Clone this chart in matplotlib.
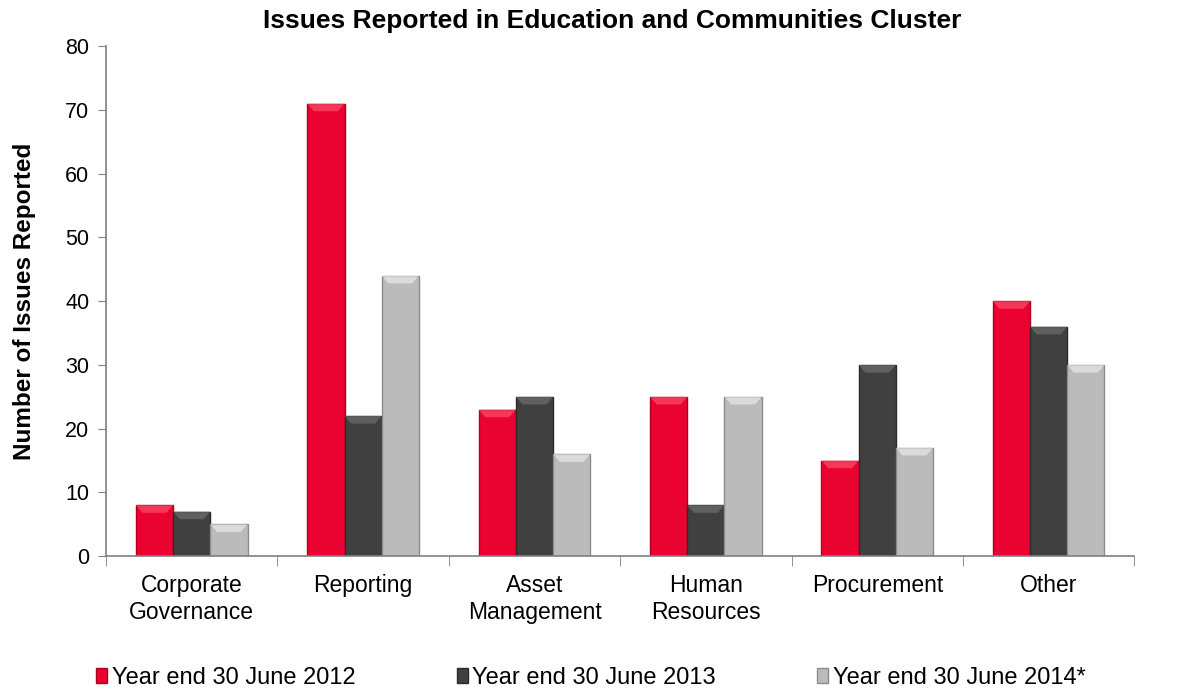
import matplotlib
matplotlib.use("Agg")
import matplotlib.pyplot as plt
import numpy as np
from matplotlib.patches import Polygon

plt.rcParams['font.family'] = ['Liberation Sans', 'DejaVu Sans']

categories = ["Corporate\nGovernance", "Reporting", "Asset\nManagement",
              "Human\nResources", "Procurement", "Other"]
series_names = ["Year end 30 June 2012", "Year end 30 June 2013", "Year end 30 June 2014*"]
v2012 = [8, 71, 23, 25, 15, 40]
v2013 = [7, 22, 25, 8, 30, 36]
v2014 = [5, 44, 16, 25, 17, 30]
colors = ["#EA0330", "#404040", "#BBBBBB"]
edges = ["#B0001F", "#2A2A2A", "#8C8C8C"]
tops = ["#FF5A75", "#777777", "#F2F2F2"]

fig = plt.figure(figsize=(11.82, 6.9), dpi=100)
ax = fig.add_axes([0.0897, 0.194, 0.87, 0.739])

x = np.arange(len(categories))
w = 0.217
for i, (vals, c, ec, tc) in enumerate(zip([v2012, v2013, v2014], colors, edges, tops)):
    pos = x + (i - 1) * w
    bars = ax.bar(pos, vals, w, color=c, edgecolor=ec, linewidth=1.0,
                  label=series_names[i], zorder=2)
    # bevel at top of each bar
    for b in bars:
        bx, bw, bh = b.get_x(), b.get_width(), b.get_height()
        d = 1.2
        inset = bw * 0.18
        poly = Polygon([(bx, bh), (bx + bw, bh), (bx + bw - inset, bh - d), (bx + inset, bh - d)],
                       closed=True, facecolor=tc, edgecolor='none', alpha=0.6, zorder=3)
        ax.add_patch(poly)

ax.set_xlim(-0.5, len(categories) - 0.5)
ax.set_ylim(0, 80)
ax.set_yticks(range(0, 81, 10))
ax.set_xticks(x)
ax.set_xticklabels(categories, fontsize=16.5, linespacing=1.2)
ax.set_xticks(np.arange(-0.5, len(categories), 1), minor=True)
ax.tick_params(axis='x', which='major', length=0, pad=13)
ax.tick_params(axis='x', which='minor', length=7, color='#808080', direction='out')
ax.tick_params(axis='y', labelsize=15.5, length=6, color='#808080', direction='out', pad=6)

for s in ['top', 'right']:
    ax.spines[s].set_visible(False)
for s in ['left', 'bottom']:
    ax.spines[s].set_color('#808080')
    ax.spines[s].set_linewidth(1.2)

ax.set_ylabel("Number of Issues Reported", fontsize=17.5, fontweight='bold', labelpad=21)
fig.text(0.518, 0.969, "Issues Reported in Education and Communities Cluster",
         ha='center', va='center', fontsize=19, fontweight='bold')

handles, labels = ax.get_legend_handles_labels()
leg = fig.legend(handles, labels, loc='center', bbox_to_anchor=(0.500, 0.017),
                 ncol=3, frameon=False, fontsize=17, handlelength=0.45, handleheight=0.6,
                 handletextpad=0.2, columnspacing=4.3)

fig.savefig("out.png", dpi=100)
